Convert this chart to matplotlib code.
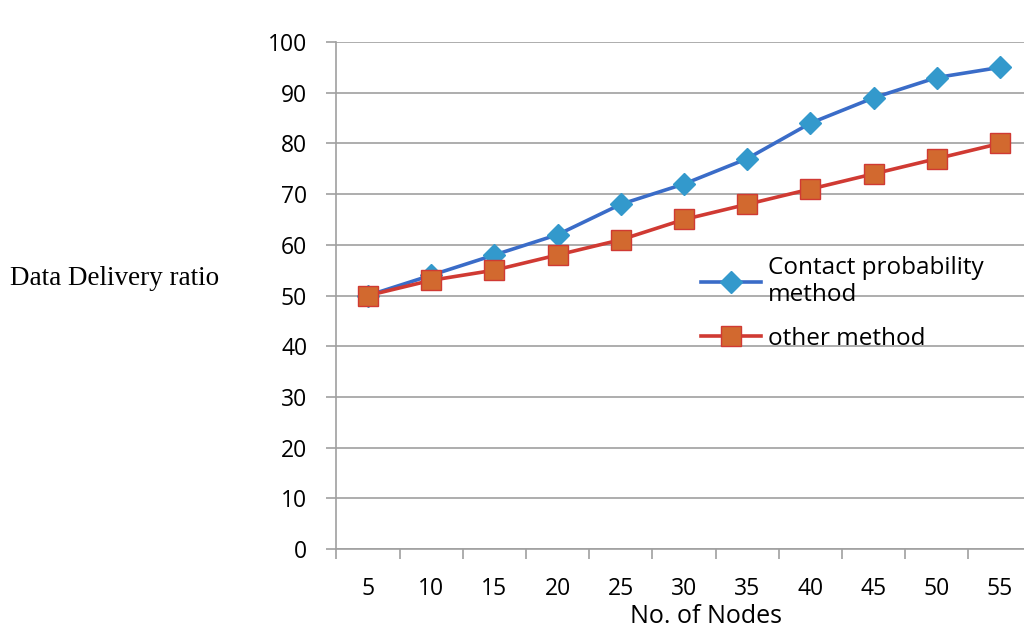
import matplotlib.pyplot as plt

nodes = ['5', '10', '15', '20', '25', '30', '35', '40', '45', '50', '55']
contact_prob = [50, 54, 58, 62, 68, 72, 77, 84, 89, 93, 95]
other_method = [50, 53, 55, 58, 61, 65, 68, 71, 74, 77, 80]

plt.rcParams['font.family'] = ['Open Sans', 'DejaVu Sans']

fig = plt.figure(figsize=(10.24, 6.33), dpi=100)
ax = fig.add_axes([0.3285, 0.1327, 0.679, 0.8009])

x = list(range(len(nodes)))
ax.plot(x, contact_prob, color='#3a6cc8', lw=2.6, marker='D', markersize=11,
        markerfacecolor='#3399cc', markeredgecolor='#3399cc', label='Contact probability\nmethod', zorder=3)
ax.plot(x, other_method, color='#d03a33', lw=2.6, marker='s', markersize=15,
        markerfacecolor='#d2692f', markeredgecolor='#d03a33', markeredgewidth=1,
        label='other method', zorder=4)

ax.set_xlim(-0.5, len(nodes) - 0.5)
ax.set_ylim(0, 100)
ax.set_yticks(range(0, 101, 10))
ax.set_xticks(x)
ax.set_xticklabels(nodes)
ax.set_xticks([i - 0.5 for i in range(len(nodes) + 1)], minor=True)
ax.tick_params(axis='x', which='major', length=0, pad=20, labelsize=16.5)
ax.tick_params(axis='x', which='minor', length=7, color='#a0a0a0', width=1.2)
ax.tick_params(axis='y', length=7, color='#a0a0a0', width=1.2, labelsize=16.5, pad=14)

ax.grid(axis='y', color='#a0a0a0', lw=1.2)
ax.set_axisbelow(True)
for s in ['top', 'right']:
    ax.spines[s].set_visible(False)
for s in ['left', 'bottom']:
    ax.spines[s].set_color('#a0a0a0')
    ax.spines[s].set_linewidth(1.2)

ax.set_xlabel('No. of Nodes', fontsize=18)
ax.xaxis.set_label_coords(0.532, -0.108)
fig.text(0.01, 0.56, 'Data Delivery ratio', family='Liberation Serif', fontsize=19.5, va='center')

ax.legend(loc='upper left', bbox_to_anchor=(0.51, 0.598), frameon=False, fontsize=17.5,
          handlelength=2.5, handletextpad=0.25, labelspacing=0.8, borderaxespad=0)

fig.savefig('out.png', dpi=100)
